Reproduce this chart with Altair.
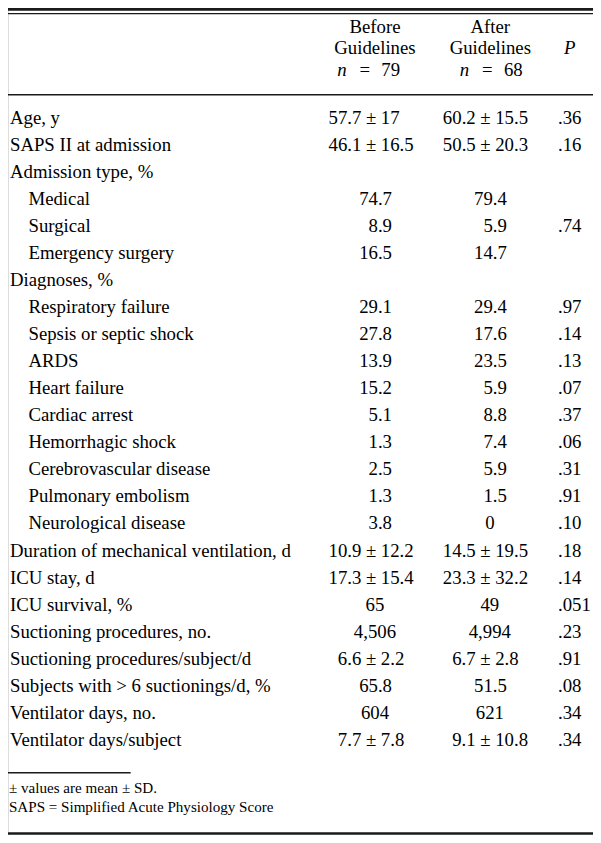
import altair as alt
import pandas as pd

# ---------------- data ----------------
labels = [
    "Age, y", "SAPS II at admission", "Admission type, %", "Medical", "Surgical",
    "Emergency surgery", "Diagnoses, %", "Respiratory failure", "Sepsis or septic shock",
    "ARDS", "Heart failure", "Cardiac arrest", "Hemorrhagic shock",
    "Cerebrovascular disease", "Pulmonary embolism", "Neurological disease",
    "Duration of mechanical ventilation, d", "ICU stay, d", "ICU survival, %",
    "Suctioning procedures, no.", "Suctioning procedures/subject/d",
    "Subjects with > 6 suctionings/d, %", "Ventilator days, no.", "Ventilator days/subject",
]
sub_item = [False, False, False, True, True, True, False,
            True, True, True, True, True, True, True, True, True,
            False, False, False, False, False, False, False, False]
before = ["57.7 ± 17", "46.1 ± 16.5", "", "74.7", "8.9", "16.5", "",
          "29.1", "27.8", "13.9", "15.2", "5.1", "1.3", "2.5", "1.3", "3.8",
          "10.9 ± 12.2", "17.3 ± 15.4", "65", "4,506", "6.6 ± 2.2", "65.8", "604", "7.7 ± 7.8"]
after = ["60.2 ± 15.5", "50.5 ± 20.3", "", "79.4", "5.9", "14.7", "",
         "29.4", "17.6", "23.5", "5.9", "8.8", "7.4", "5.9", "1.5", "0",
         "14.5 ± 19.5", "23.3 ± 32.2", "49", "4,994", "6.7 ± 2.8", "51.5", "621", "9.1 ± 10.8"]
p_values = [".36", ".16", "", "", ".74", "", "", ".97", ".14", ".13", ".07", ".37", ".06",
            ".31", ".91", ".10", ".18", ".14", ".051", ".23", ".91", ".08", ".34", ".34"]
group_titles = ["Before", "After"]
group_sub = "Guidelines"
group_n = ["79", "68"]
p_header = "P"
footnotes = ["± values are mean ± SD.", "SAPS = Simplified Acute Physiology Score"]

# ---------------- layout (reference pixel space 601 x 843) ----------------
W_REF, H_REF = 601, 843
W, H = 585, 827
K = W / W_REF
FONT = "Liberation Serif"
FS = 19.3 * K
FS_FOOT = 15.5 * K
ROW0, PITCH = 118, 27.57
HEAD_Y = [25, 47, 69]
COLS = [  # (plus-minus centre, decimal right edge, centre, header centre, n group centre)
    dict(pm=373, dec=394.5, ctr=377, head=377, ngrp=372.5),
    dict(pm=490.5, dec=512.5, ctr=495, head=495.5, ngrp=498.5),
]
P_LEFT = 565
P_HEAD = 577
LBL_X = [2, 21]

left, right, center = [], [], []
italic = []
for i, lab in enumerate(labels):
    y = ROW0 + i * PITCH
    left.append(dict(x=LBL_X[1 if sub_item[i] else 0], y=y, t=lab))
    for c, vals in enumerate([before, after]):
        v = vals[i]
        col = COLS[c]
        if "±" in v:
            a, b = [s.strip() for s in v.split("±")]
            right.append(dict(x=col["pm"] - 10, y=y, t=a))
            center.append(dict(x=col["pm"], y=y, t="±"))
            left.append(dict(x=col["pm"] + 10, y=y, t=b))
        elif "." in v:
            right.append(dict(x=col["dec"], y=y, t=v))
        elif v:
            center.append(dict(x=col["ctr"], y=y, t=v))
    if p_values[i]:
        left.append(dict(x=P_LEFT, y=y, t=p_values[i]))

for c, col in enumerate(COLS):
    center.append(dict(x=col["head"], y=HEAD_Y[0], t=group_titles[c]))
    center.append(dict(x=col["head"], y=HEAD_Y[1], t=group_sub))
    italic.append(dict(x=col["ngrp"] - 29.5, y=HEAD_Y[2], t="n"))
    center.append(dict(x=col["ngrp"] - 6, y=HEAD_Y[2], t="="))
    left.append(dict(x=col["ngrp"] + 11, y=HEAD_Y[2], t=group_n[c]))
italic.append(dict(x=P_HEAD, y=HEAD_Y[1], t=p_header))

foot = [dict(x=1, y=800, t=footnotes[0]), dict(x=1, y=820, t=footnotes[1])]

rules = pd.DataFrame([
    dict(x=0, x2=W_REF, y=1.4, w=2.8),
    dict(x=0, x2=W_REF, y=5.8, w=1.3),
    dict(x=0, x2=W_REF, y=88.5, w=1.4),
    dict(x=0, x2=126, y=779.5, w=1.4),
    dict(x=0, x2=W_REF, y=841.5, w=2.6),
])

xs = alt.Scale(domain=[0, W_REF], nice=False, zero=False)
ys = alt.Scale(domain=[0, H_REF], nice=False, zero=False, reverse=True)


def text_layer(rows, align, size, style="normal"):
    return alt.Chart(pd.DataFrame(rows)).mark_text(
        align=align, baseline="alphabetic", font=FONT, fontSize=size,
        fontStyle=style, color="#000",
    ).encode(
        x=alt.X("x:Q", scale=xs, axis=None),
        y=alt.Y("y:Q", scale=ys, axis=None),
        text="t:N",
    )


rule_layer = alt.Chart(rules).mark_rule(color="#1a1a1a").encode(
    x=alt.X("x:Q", scale=xs, axis=None),
    x2="x2:Q",
    y=alt.Y("y:Q", scale=ys, axis=None),
    strokeWidth=alt.StrokeWidth("w:Q", scale=None),
)

chart = alt.layer(
    rule_layer,
    text_layer(left, "left", FS),
    text_layer(right, "right", FS),
    text_layer(center, "center", FS),
    text_layer(italic, "center", FS, "italic"),
    text_layer(foot, "left", FS_FOOT),
).properties(
    width=W, height=H, padding=0,
    autosize=alt.AutoSizeParams(type="none"),
).configure_view(stroke=None).configure(background="white")

chart.save("out.html", embed_options={"renderer": "svg", "actions": False})
